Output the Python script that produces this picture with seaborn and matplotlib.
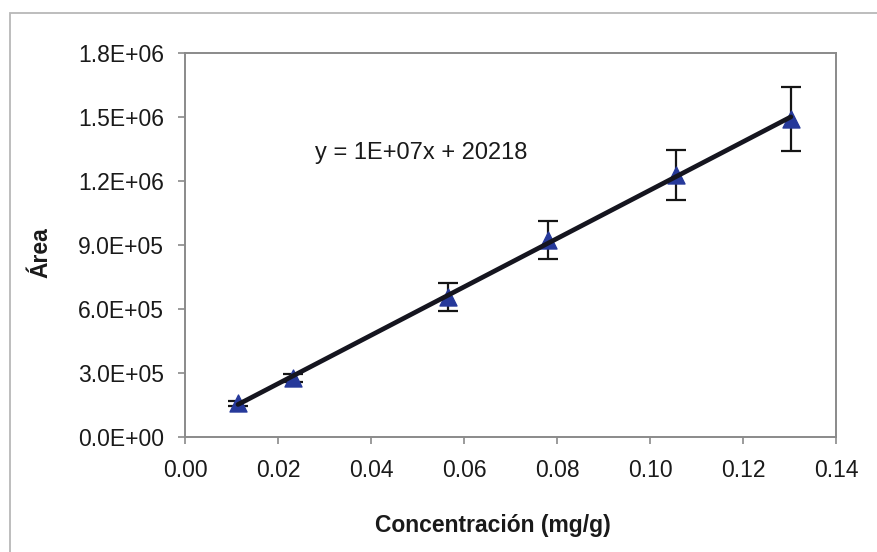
import numpy as np
import pandas as pd
import matplotlib
matplotlib.use("Agg")
import matplotlib.pyplot as plt
import matplotlib.transforms as mtransforms
import seaborn as sns
from matplotlib.patches import Rectangle
from matplotlib.ticker import FuncFormatter

# Calibration data
concentracion = [0.0114, 0.0233, 0.0565, 0.0780, 0.1055, 0.1303]   # mg/g
area = [1.59e5, 2.77e5, 6.55e5, 9.22e5, 1.228e6, 1.490e6]
desviacion = [1.2e4, 2.0e4, 6.5e4, 8.9e4, 1.17e5, 1.50e5]
ecuacion = "y = 1E+07x + 20218"

x_ticks = [0.00, 0.02, 0.04, 0.06, 0.08, 0.10, 0.12, 0.14]
y_ticks = [0.0, 3.0e5, 6.0e5, 9.0e5, 1.2e6, 1.5e6, 1.8e6]

df = pd.DataFrame({"Concentración (mg/g)": concentracion, "Área": area})

sns.set_theme(style="white")
plt.rcParams["font.family"] = ["Liberation Sans", "DejaVu Sans"]

fig = plt.figure(figsize=(8.77, 5.52), dpi=100)
ax = fig.add_axes([185 / 877, 1 - 437 / 552, (836 - 185) / 877, (437 - 53) / 552])

# Outer chart frame
fig.patches.append(Rectangle((10 / 877, -0.1), 1.2, 1 - 13 / 552 + 0.1,
                             transform=fig.transFigure, fill=False,
                             edgecolor="#b8b8b8", linewidth=1.3, zorder=0))

# Error bars and markers
ax.errorbar(concentracion, area, yerr=desviacion, fmt="none", ecolor="#151515",
            elinewidth=1.6, capsize=7, capthick=1.6, zorder=2)
sns.scatterplot(data=df, x="Concentración (mg/g)", y="Área", marker="^",
                s=150, color="#26399a", edgecolor="#26399a", ax=ax, zorder=3)

# Linear trend line
sns.regplot(data=df, x="Concentración (mg/g)", y="Área", scatter=False, ci=None,
            truncate=True, line_kws={"color": "#15151f", "linewidth": 3.4,
                                     "zorder": 4}, ax=ax)

# Trend line equation, placed in figure pixel coordinates
fig.text(315, 552 - 153, ecuacion, transform=mtransforms.IdentityTransform(),
         fontsize=17, color="#1a1a1a", va="center", ha="left")

ax.set_xlim(0, 0.14)
ax.set_ylim(0, 1.8e6)
ax.set_xticks(x_ticks)
ax.set_yticks(y_ticks)
ax.xaxis.set_major_formatter(FuncFormatter(lambda v, p: f"{v:.2f}"))
ax.yaxis.set_major_formatter(FuncFormatter(lambda v, p: f"{v:.1E}"))

for side in ["left", "bottom", "top", "right"]:
    ax.spines[side].set_visible(True)
    ax.spines[side].set_color("#8a8a8a")
    ax.spines[side].set_linewidth(1.4)

ax.tick_params(axis="both", which="major", direction="out", length=5,
               width=1.2, color="#8a8a8a", labelsize=16.5, labelcolor="#1a1a1a",
               bottom=True, left=True)
ax.tick_params(axis="x", pad=11)
ax.tick_params(axis="y", pad=10)

ax.set_xlabel("Concentración (mg/g)", fontsize=16.5, fontweight="bold",
              color="#1a1a1a")
ax.set_ylabel("Área", fontsize=16.5, fontweight="bold", color="#1a1a1a")
ax.xaxis.set_label_coords(0.473, -0.2)
ax.yaxis.set_label_coords(-0.203, 0.48)

fig.savefig("out.png", dpi=100, facecolor="white")
